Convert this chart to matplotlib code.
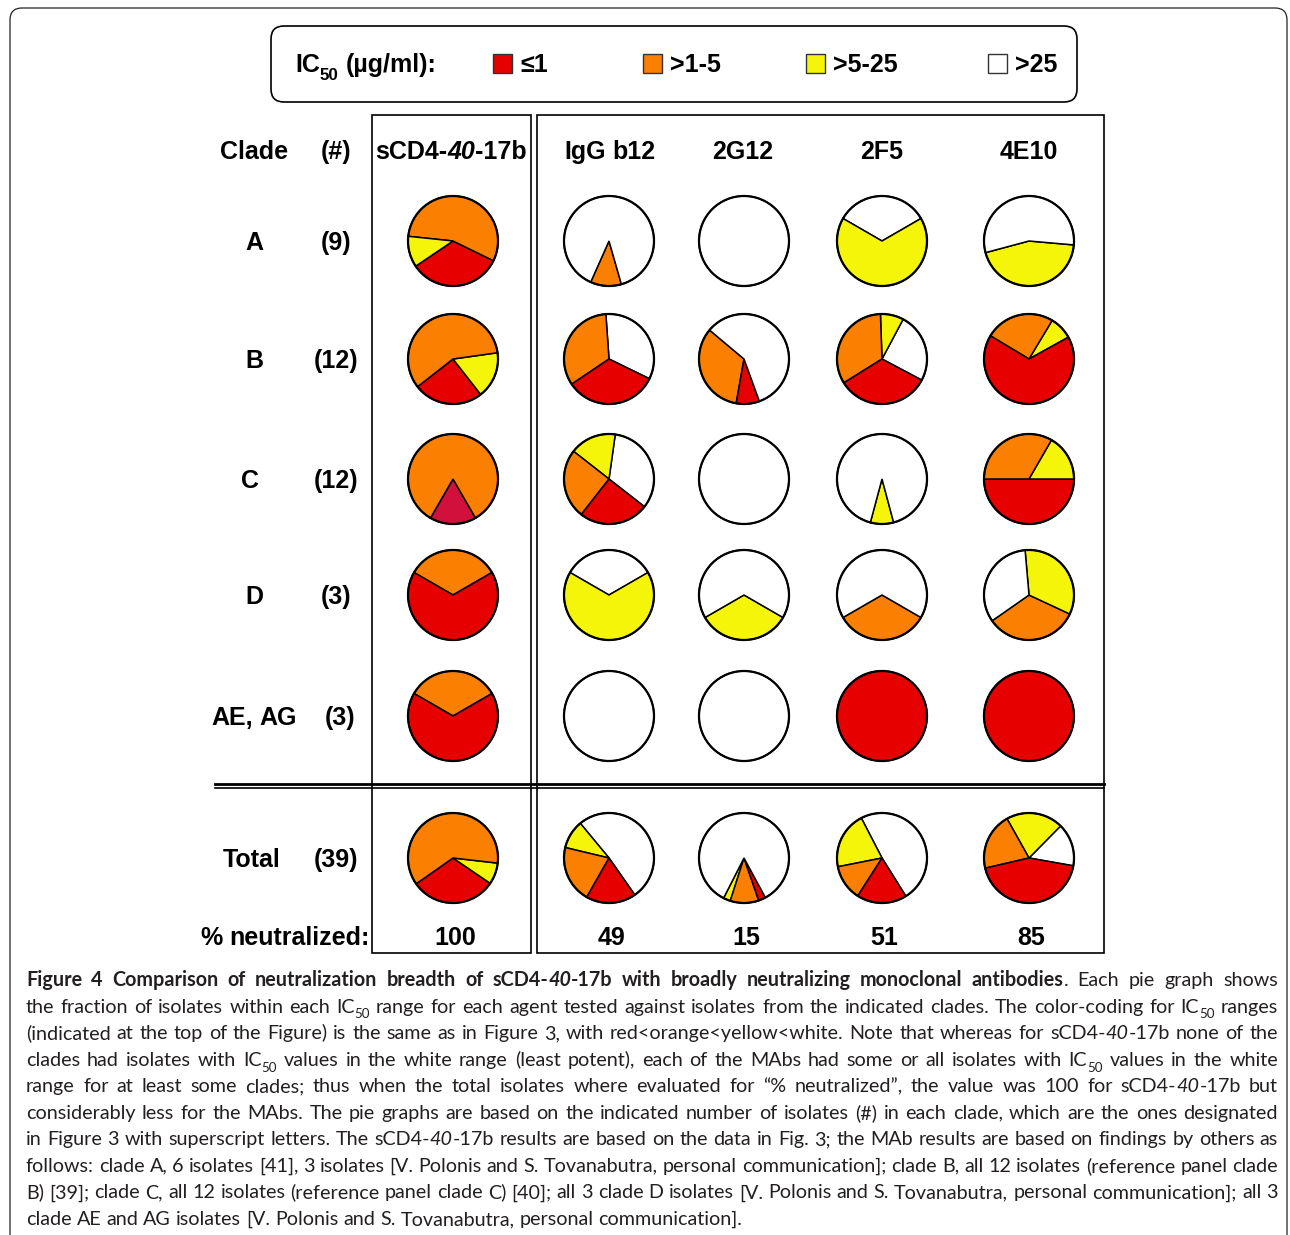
import matplotlib
matplotlib.use("Agg")
import matplotlib.pyplot as plt
from matplotlib.patches import Circle, Rectangle, FancyBboxPatch
from matplotlib.lines import Line2D

# ---------------------------------------------------------------- data
ic50_ranges = ["\u22641", ">1-5", ">5-25", ">25"]
range_colors = ["#e60000", "#fb7f00", "#f5f50a", "#ffffff"]

agents = ["sCD4-40-17b", "IgG b12", "2G12", "2F5", "4E10"]
clades = ["A", "B", "C", "D", "AE, AG"]
clade_sizes = [9, 12, 12, 3, 3]

# isolates per IC50 range [<=1, >1-5, >5-25, >25] for each clade
scd4_17b = [[3, 5, 1, 0], [3, 7, 2, 0], [2, 10, 0, 0], [2, 1, 0, 0], [2, 1, 0, 0]]
igg_b12 = [[0, 1, 0, 8], [4, 4, 0, 4], [3, 3, 2, 4], [0, 0, 2, 1], [0, 0, 0, 3]]
mab_2g12 = [[0, 0, 0, 9], [1, 4, 0, 7], [0, 0, 0, 12], [0, 0, 1, 2], [0, 0, 0, 3]]
mab_2f5 = [[0, 0, 6, 3], [4, 4, 1, 3], [0, 0, 1, 11], [0, 1, 0, 2], [3, 0, 0, 0]]
mab_4e10 = [[0, 0, 4, 5], [8, 3, 1, 0], [6, 4, 2, 0], [0, 1, 1, 1], [3, 0, 0, 0]]
agent_counts = [scd4_17b, igg_b12, mab_2g12, mab_2f5, mab_4e10]

# ---------------------------------------------------------------- slice arrangement
# (counter-clockwise order of ranges, start angle in degrees) for each pie,
# rows = clades followed by the total row, columns = agents
slice_layout = [
    [([0, 1, 2], 214), ([1, 3], -114), ([3], 90), ([3, 2], 30), ([2, 3], 195)],
    [([0, 2, 1], 218), ([3, 1, 0], -26), ([1, 0, 3], 140), ([3, 2, 1, 0], -28), ([2, 1, 0], 29)],
    [([0, 1], -120), ([3, 2, 1, 0], -38), ([3], 90), ([2, 3], -105), ([0, 2, 1], 180)],
    [([1, 0], 30), ([3, 2], 30), ([2, 3], 210), ([1, 3], 210), ([1, 2, 3], 215)],
    [([1, 0], 30), ([3], 90), ([3], 90), ([0], 90), ([0], 90)],
    [([0, 2, 1], 215), ([3, 2, 1, 0], -55), ([2, 1, 0, 3], 243), ([3, 2, 1, 0], -58), ([3, 2, 1, 0], -10)],
]
# the <=1 wedge of sCD4-40-17b / clade C is printed in a deeper crimson
color_override = {(2, 0, 0): "#d2103c"}

# ---------------------------------------------------------------- canvas
W, H = 1290, 1235
fig = plt.figure(figsize=(W / 100, H / 100), dpi=100)
ax = fig.add_axes([0, 0, 1, 1])
ax.set_autoscale_on(False)
renderer = fig.canvas.get_renderer()

LABEL_FONT = ["Liberation Sans", "DejaVu Sans"]
CAPTION_FONT = ["Lato", "DejaVu Sans"]


def Y(y):
    return H - y


def _mk(s, style, size, family, color="black"):
    sz = size * 0.68 if "s" in style else size
    return ax.text(0, 0, s, fontsize=sz, family=family,
                   fontweight="bold" if "b" in style else "normal",
                   fontstyle="italic" if "i" in style else "normal",
                   ha="left", va="baseline", color=color)


_space_cache = {}


def space_width(style, size, family):
    key = (style, size, tuple(family))
    if key not in _space_cache:
        a = _mk("n n", style, size, family)
        b = _mk("nn", style, size, family)
        _space_cache[key] = (a.get_window_extent(renderer).width
                             - b.get_window_extent(renderer).width)
        a.remove()
        b.remove()
    return _space_cache[key]


def draw_runs(runs, x, baseline, size, family, ha="left", justify=None,
              color="black", base_style=""):
    """Lay out styled runs word by word on one baseline (image coords)."""
    items = []
    for text, style in runs:
        style = base_style + style
        parts = text.split(" ")
        for j, p in enumerate(parts):
            if j > 0:
                items.append(["sp", None, style, space_width(style, size, family)])
            if p:
                t = _mk(p, style, size, family, color)
                items.append(["w", t, style, t.get_window_extent(renderer).width])
    natural = sum(it[3] for it in items)
    n_sp = sum(1 for it in items if it[0] == "sp")
    extra = 0.0
    if justify is not None and n_sp:
        extra = (justify - natural) / n_sp
        natural = justify
    if ha == "center":
        cx = x - natural / 2
    elif ha == "right":
        cx = x - natural
    else:
        cx = x
    for kind, t, style, w in items:
        if kind == "sp":
            cx += w + extra
            continue
        dy = size * 0.30 * 1.389 if "s" in style else 0
        t.set_position((cx, Y(baseline + dy)))
        cx += w
    return natural


# ---------------------------------------------------------------- frames
ax.add_patch(FancyBboxPatch((10, Y(1260)), 1277, 1252,
                            boxstyle="round,pad=0,rounding_size=12",
                            fc="none", ec="#222222", lw=0.9))
ax.add_patch(FancyBboxPatch((271, Y(102)), 806, 76,
                            boxstyle="round,pad=0,rounding_size=13",
                            fc="none", ec="black", lw=1.2))
ax.add_patch(Rectangle((372, Y(953)), 159, 838, fc="none", ec="black", lw=1.2))
ax.add_patch(Rectangle((537, Y(953)), 567, 838, fc="none", ec="black", lw=1.2))
ax.add_line(Line2D([215, 1104], [Y(784), Y(784)], color="black", lw=2.0))
ax.add_line(Line2D([215, 1104], [Y(787.6), Y(787.6)], color="black", lw=1.2))

# ---------------------------------------------------------------- legend
LS = 18
draw_runs([("IC", "b"), ("50", "bs"), (" (\u00b5g/ml):", "b")], 295, 72, LS, LABEL_FONT)
legend_x = [493, 643, 806, 988]
for xk, lab, col in zip(legend_x, ic50_ranges, range_colors):
    ax.add_patch(Rectangle((xk, Y(73)), 19, 19, fc=col, ec="#333333", lw=1.0))
    draw_runs([(lab, "b")], xk + 27, 72, LS, LABEL_FONT)

# ---------------------------------------------------------------- headers
col_x = [453, 609, 744, 882, 1029]
row_y = [241, 359, 479, 595, 716, 858]
R = 45

draw_runs([("Clade", "b")], 254, 159, LS, LABEL_FONT, ha="center")
draw_runs([("(#)", "b")], 336, 159, LS, LABEL_FONT, ha="center")
header_runs = [[("sCD4-", "b"), ("40", "bi"), ("-17b", "b")]] + [[(a, "b")] for a in agents[1:]]
header_x = [451, 610, 743, 882, 1029]
for hx, runs in zip(header_x, header_runs):
    draw_runs(runs, hx, 159, LS, LABEL_FONT, ha="center")

label_x = [254, 254, 250, 254, 254]
count_x = [336, 336, 336, 336, 340]
for ry, lab, n, lx, nx in zip(row_y, clades, clade_sizes, label_x, count_x):
    draw_runs([(lab, "b")], lx, ry + 9, LS, LABEL_FONT, ha="center")
    draw_runs([(f"({n})", "b")], nx, ry + 9, LS, LABEL_FONT, ha="center")

# ---------------------------------------------------------------- pies
totals = [[sum(c[k] for c in counts) for k in range(4)] for counts in agent_counts]


def draw_pie(counts, layout, cx, cy, overrides):
    order, start = layout
    vals = [counts[k] for k in order if counts[k] > 0]
    cols = [overrides.get(k, range_colors[k]) for k in order if counts[k] > 0]
    ax.pie(vals, colors=cols, startangle=start, counterclock=True,
           center=(cx, Y(cy)), radius=R, frame=True,
           wedgeprops=dict(edgecolor="black", linewidth=1.1))
    ax.add_patch(Circle((cx, Y(cy)), R, fc="none", ec="black", lw=1.6))


for r in range(len(clades)):
    for a in range(len(agents)):
        ov = {k: v for (rr, aa, k), v in color_override.items() if rr == r and aa == a}
        draw_pie(agent_counts[a][r], slice_layout[r][a], col_x[a], row_y[r], ov)

draw_runs([("Total", "b")], 252, row_y[5] + 9, LS, LABEL_FONT, ha="center")
draw_runs([(f"({sum(clade_sizes)})", "b")], 336, row_y[5] + 9, LS, LABEL_FONT, ha="center")
for a in range(len(agents)):
    draw_pie(totals[a], slice_layout[5][a], col_x[a], row_y[5], {})

# % neutralized = share of isolates outside the >25 range
pct_neutralized = [round(100 * (1 - t[3] / sum(t))) for t in totals]
draw_runs([("% neutralized:", "b")], 370, 945, LS, LABEL_FONT, ha="right")
for cx, p in zip(col_x, pct_neutralized):
    draw_runs([(str(p), "b")], cx + 2, 945, LS, LABEL_FONT, ha="center")

# ---------------------------------------------------------------- caption
caption_lines = [
    [("Figure 4 Comparison of neutralization breadth of sCD4-", "b"), ("40", "bi"),
     ("-17b with broadly neutralizing monoclonal antibodies", "b"), (". Each pie graph shows", "")],
    [("the fraction of isolates within each IC", ""), ("50", "s"),
     (" range for each agent tested against isolates from the indicated clades. The color-coding for IC", ""),
     ("50", "s"), (" ranges", "")],
    [("(indicated at the top of the Figure) is the same as in Figure 3, with red<orange<yellow<white. "
      "Note that whereas for sCD4-", ""), ("40", "i"), ("-17b none of the", "")],
    [("clades had isolates with IC", ""), ("50", "s"),
     (" values in the white range (least potent), each of the MAbs had some or all isolates with IC", ""),
     ("50", "s"), (" values in the white", "")],
    [("range for at least some clades; thus when the total isolates where evaluated for "
      "\u201c% neutralized\u201d, the value was 100 for sCD4-", ""), ("40", "i"), ("-17b but", "")],
    [("considerably less for the MAbs. The pie graphs are based on the indicated number of isolates (#) "
      "in each clade, which are the ones designated", "")],
    [("in Figure 3 with superscript letters. The sCD4-", ""), ("40", "i"),
     ("-17b results are based on the data in Fig. 3; the MAb results are based on findings by others as", "")],
    [("follows: clade A, 6 isolates [41], 3 isolates [V. Polonis and S. Tovanabutra, personal communication]; "
      "clade B, all 12 isolates (reference panel clade", "")],
    [("B) [39]; clade C, all 12 isolates (reference panel clade C) [40]; all 3 clade D isolates "
      "[V. Polonis and S. Tovanabutra, personal communication]; all 3", "")],
    [("clade AE and AG isolates [V. Polonis and S. Tovanabutra, personal communication].", "")],
]
CAP_SIZE = 14.2
CAP_X0, CAP_X1 = 26, 1278
for i, runs in enumerate(caption_lines):
    base = 986 + 26.55 * i
    last = i == len(caption_lines) - 1
    draw_runs(runs, CAP_X0, base, CAP_SIZE, CAPTION_FONT,
              justify=None if last else CAP_X1 - CAP_X0, color="#231f20")

ax.set_xlim(0, W)
ax.set_ylim(0, H)
ax.set_aspect("equal")
ax.axis("off")
fig.savefig("out.png", dpi=100, facecolor="white")
